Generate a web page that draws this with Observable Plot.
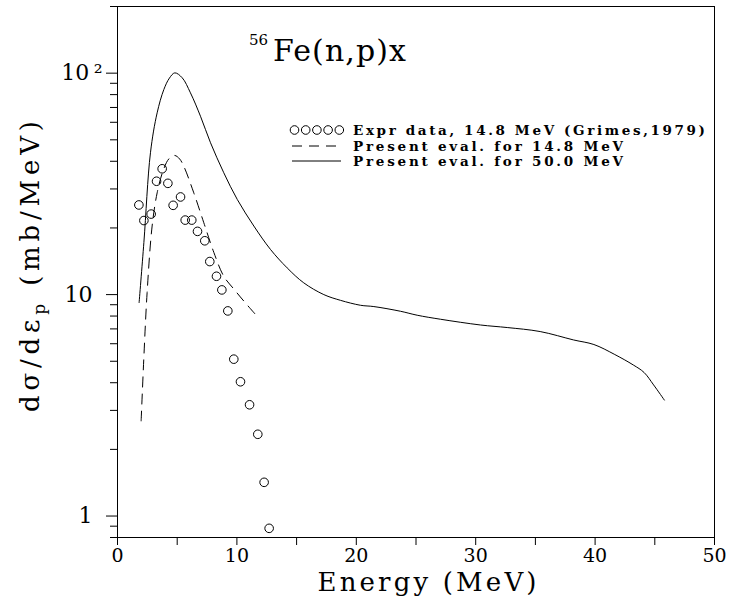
<!DOCTYPE html>
<html><head><meta charset="utf-8">
<script src="https://cdn.jsdelivr.net/npm/d3@7"></script>
<script src="https://cdn.jsdelivr.net/npm/@observablehq/plot@0.6"></script>
<style>body{margin:0;background:#fff} svg{display:block}</style>
</head><body><div id="chart"></div>
<script>
// Experimental data, 14.8 MeV (Grimes, 1979)
const exprEnergy = [1.79, 2.21, 2.82, 3.27, 3.74, 4.22, 4.66, 5.28, 5.67, 6.22, 6.70, 7.31, 7.73, 8.29, 8.74, 9.24, 9.74, 10.30, 11.06, 11.75, 12.28, 12.70];
const exprValue  = [25.4, 21.6, 23.1, 32.5, 37.0, 31.8, 25.3, 27.6, 21.7, 21.7, 19.3, 17.5, 14.1, 12.1, 10.5, 8.44, 5.11, 4.04, 3.18, 2.34, 1.42, 0.88];
// Present evaluation, 14.8 MeV
const eval148Energy = [1.98, 2.2, 2.48, 2.9, 3.32, 3.8, 4.3, 4.8, 5.2, 5.55, 6.39, 7.23, 8.07, 8.9, 9.74, 10.58, 11.5];
const eval148Value  = [2.69, 5.1, 10.2, 20.4, 28.8, 36, 41, 42.5, 41, 38, 28.8, 21.1, 15.5, 12.1, 10.6, 9.35, 8.2];
// Present evaluation, 50.0 MeV
const eval500Energy = [1.81, 2.21, 2.76, 3.32, 3.88, 4.35, 4.8, 5.42, 6.11, 6.95, 7.79, 8.9, 10.03, 11.42, 12.81, 14.21, 15.6, 17.28, 18.68, 20.35, 21.47, 23.7, 25.1, 27.05, 30.4, 32.64, 35.4, 38.2, 39.9, 41.6, 43.2, 44.1, 44.9, 45.8];
const eval500Value  = [9.2, 17.2, 43.7, 66.2, 84.3, 95, 100.3, 95.3, 81.5, 63.9, 48.5, 35.5, 26.9, 20.4, 16.0, 13.2, 11.3, 10.0, 9.42, 8.95, 8.83, 8.41, 8.07, 7.74, 7.29, 7.10, 6.81, 6.24, 5.95, 5.38, 4.81, 4.45, 3.91, 3.34];

const xTicks = [0, 5, 10, 15, 20, 25, 30, 35, 40, 45, 50];
const yMajorTicks = [1, 10, 100];
const yMinorTicks = [0.8, 0.9, 2, 3, 4, 5, 6, 7, 8, 9, 20, 30, 40, 50, 60, 70, 80, 90, 200];
const legendLabels = ["Expr data, 14.8 MeV (Grimes,1979)", "Present eval. for 14.8 MeV", "Present eval. for 50.0 MeV"];
const titleMass = "56";
const titleText = "Fe(n,p)x";
const xLabel = "Energy (MeV)";
const yLabelParts = ["d\u03c3/d\u03b5", "p", " (mb/MeV)"];

const expr = exprEnergy.map((e, i) => ({e, v: exprValue[i]}));
const eval148 = eval148Energy.map((e, i) => ({e, v: eval148Value[i]}));
const eval500 = eval500Energy.map((e, i) => ({e, v: eval500Value[i]}));

const serif = "DejaVu Serif, serif";

const chart = Plot.plot({
  width: 731, height: 603,
  marginLeft: 117, marginRight: 17, marginTop: 6, marginBottom: 66,
  style: {background: "#fff", color: "#000", fontFamily: serif, overflow: "visible"},
  x: {type: "linear", domain: [0, 50]},
  y: {type: "log", domain: [0.8, 200]},
  marks: [
    Plot.frame({stroke: "#000", strokeWidth: 1}),
    Plot.axisX({ticks: xTicks, tickSize: 8, tickPadding: 3, tickFormat: d => d % 10 === 0 ? String(d) : "", fontSize: 19, fontFamily: serif, label: null}),
    Plot.axisY({ticks: yMajorTicks, tickSize: 11, tickPadding: 14, tickFormat: d => d === 100 ? "" : String(d), fontSize: 22, fontFamily: serif, label: null}),
    Plot.axisY({ticks: [100], stroke: "none", tickSize: 11, tickPadding: 14, dx: 10, tickFormat: () => "10\u2009\u00b2", fontSize: 22, fontFamily: serif, label: null}),
    Plot.axisY({ticks: yMinorTicks, tickSize: 7, tickFormat: () => "", label: null}),
    Plot.line(eval500, {x: "e", y: "v", stroke: "#000", strokeWidth: 1, curve: "catmull-rom"}),
    Plot.line(eval148, {x: "e", y: "v", stroke: "#000", strokeWidth: 1, strokeDasharray: "10,7", curve: "catmull-rom"}),
    Plot.dot(expr, {x: "e", y: "v", r: 4.3, stroke: "#000", fill: "none", strokeWidth: 1})
  ]
});

document.getElementById("chart").appendChild(chart);

const svg = d3.select(chart);

// Title
svg.append("text").attr("x", 249).attr("y", 45).attr("text-anchor", "start").attr("font-family", serif).attr("font-size", 15).attr("fill", "#000").text(titleMass);
svg.append("text").attr("x", 273).attr("y", 61).attr("text-anchor", "start").attr("font-family", serif).attr("font-size", 30).attr("fill", "#000")
  .attr("textLength", 133).attr("lengthAdjust", "spacing").text(titleText);

// Legend
const lg = svg.append("g").attr("fill", "none").attr("stroke", "#000").attr("stroke-width", 1);
const rowY = [130, 146, 161];
for (let i = 0; i < 5; i++) lg.append("circle").attr("cx", 294.5 + i * 11.2).attr("cy", rowY[0]).attr("r", 4.3);
lg.append("line").attr("x1", 292).attr("x2", 341).attr("y1", rowY[1]).attr("y2", rowY[1]).attr("stroke-dasharray", "10,7");
lg.append("line").attr("x1", 292).attr("x2", 341).attr("y1", rowY[2]).attr("y2", rowY[2]);
const legendLen = [352, 270, 270];
legendLabels.forEach((t, i) => {
  svg.append("text").attr("x", 353).attr("y", rowY[i] + 5).attr("text-anchor", "start").attr("font-family", serif).attr("font-weight", "bold")
    .attr("font-size", 13.5).attr("fill", "#000").attr("textLength", legendLen[i]).attr("lengthAdjust", "spacing").text(t);
});

// X label
svg.append("text").attr("x", 427).attr("y", 591).attr("text-anchor", "middle").attr("font-family", serif).attr("font-size", 26)
  .attr("fill", "#000").attr("textLength", 219).attr("lengthAdjust", "spacing").text(xLabel);

// Y label
const yl = svg.append("text").attr("transform", "translate(39,266.5) rotate(-90)").attr("text-anchor", "middle")
  .attr("font-family", serif).attr("font-size", 26).attr("fill", "#000").attr("textLength", 291).attr("lengthAdjust", "spacing");
yl.append("tspan").text(yLabelParts[0]);
yl.append("tspan").attr("font-size", 17).attr("dy", 6).text(yLabelParts[1]);
yl.append("tspan").attr("dy", -6).text(yLabelParts[2]);
</script>
</body></html>
